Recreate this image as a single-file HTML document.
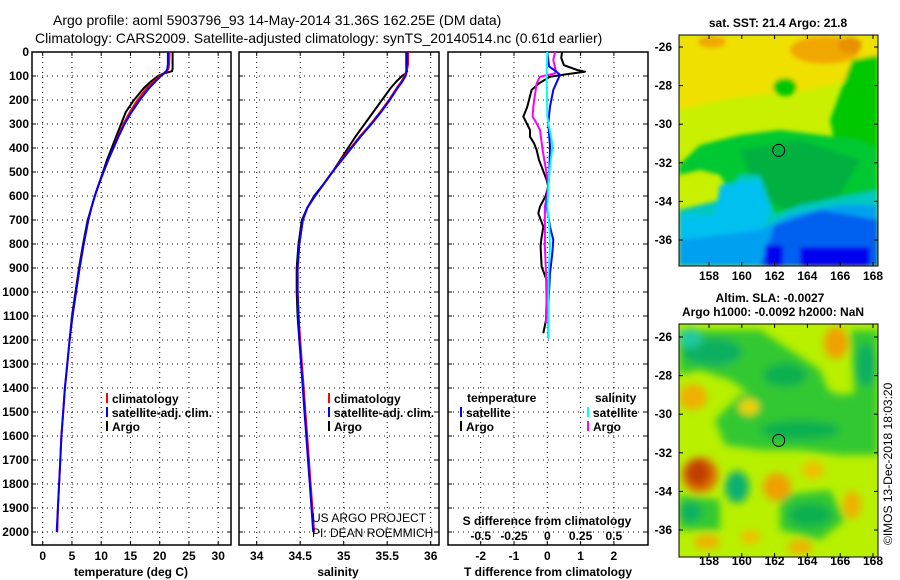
<!DOCTYPE html>
<html><head><meta charset="utf-8"><style>
body{margin:0;background:#fff;}
svg{display:block;font-family:"Liberation Sans",sans-serif;}
.b{font-weight:bold;font-size:12px;}
.n{font-size:12px;}
.t{font-size:14px;}
</style></head><body>
<svg id="fig" width="900" height="580" viewBox="0 0 900 580">
<defs>
<filter id="bl" x="-50%" y="-50%" width="200%" height="200%"><feGaussianBlur stdDeviation="4"/></filter>
<filter id="bl2" x="-50%" y="-50%" width="200%" height="200%"><feGaussianBlur stdDeviation="2"/></filter>
<clipPath id="c1"><rect x="679" y="35" width="199" height="231"/></clipPath>
<clipPath id="c2"><rect x="679" y="324" width="199" height="233"/></clipPath>
</defs>
<text class="t" x="53" y="25">Argo profile: aoml 5903796_93 14-May-2014 31.36S 162.25E (DM data)</text>
<text class="t" x="35" y="43">Climatology: CARS2009. Satellite-adjusted climatology: synTS_20140514.nc (0.61d earlier)</text>

<!-- SST map -->
<g clip-path="url(#c1)">
<rect x="679" y="35" width="199" height="231" fill="#c8f000"/>
<g filter="url(#bl2)">
<polygon points="679,35 878,35 878,60 850,80 800,92 760,95 720,100 679,110" fill="#f0e000"/>
<ellipse cx="825" cy="50" rx="35" ry="14" fill="#f0a800"/>
<ellipse cx="712" cy="42" rx="14" ry="6" fill="#f0a800"/>
<ellipse cx="850" cy="45" rx="12" ry="8" fill="#e89000"/>
<polygon points="852,60 878,55 878,190 840,170 830,120" fill="#00c800"/>
<ellipse cx="785" cy="87" rx="12" ry="9" fill="#00c800"/>
<polygon points="679,165 700,145 740,135 780,130 820,135 860,140 878,150 878,200 840,205 780,215 740,212 720,175 700,170 679,175" fill="#00c830"/>
<polygon points="740,150 800,140 860,160 840,195 790,210 760,200" fill="#00b040"/>
<polygon points="679,210 720,200 740,175 760,175 775,215 800,205 878,190 878,266 679,266" fill="#00c8c0"/>
<polygon points="720,185 760,180 770,210 760,240 720,250 679,245 679,215 715,215" fill="#00c0f0"/>
<polygon points="679,240 760,230 790,215 840,205 878,205 878,266 679,266" fill="#00a0f0"/>
<polygon points="775,225 820,210 878,220 878,266 760,266" fill="#0060f0"/>
<rect x="800" y="247" width="70" height="19" fill="#0000f0"/>
<rect x="765" y="245" width="18" height="21" fill="#0000f0"/>
</g>
</g>
<rect x="679" y="35" width="199" height="231" fill="none" stroke="#000" stroke-width="1"/>
<circle cx="778.7" cy="150.4" r="6" fill="none" stroke="#000" stroke-width="1"/>
<text class="b" x="778" y="27" text-anchor="middle">sat. SST: 21.4 Argo: 21.8</text>

<!-- SLA map -->
<g clip-path="url(#c2)">
<rect x="679" y="324" width="199" height="233" fill="#b8f000"/>
<g filter="url(#bl)">
<polygon points="679,330 760,330 790,350 820,370 830,395 760,400 730,380 700,370 679,375" fill="#30c830"/>
<polygon points="740,395 770,385 800,380 840,395 878,390 878,455 840,455 800,450 760,450 725,445 715,420" fill="#30c830"/>
<polygon points="780,495 830,490 845,520 820,540 780,530" fill="#30c830"/>
<polygon points="679,495 720,500 720,530 679,530" fill="#30c830"/>
<polygon points="850,330 878,330 878,410 855,400" fill="#30c830"/>
<ellipse cx="712" cy="352" rx="30" ry="14" fill="#10b060"/>
<ellipse cx="690" cy="338" rx="12" ry="10" fill="#20c8a0"/>
<ellipse cx="836" cy="343" rx="12" ry="16" fill="#f0a000"/>
<ellipse cx="866" cy="365" rx="10" ry="22" fill="#10b060"/>
<ellipse cx="785" cy="375" rx="22" ry="12" fill="#10b050"/>
<ellipse cx="693" cy="397" rx="14" ry="13" fill="#f0b000"/>
<ellipse cx="749" cy="407" rx="10" ry="8" fill="#f0d000"/>
<ellipse cx="800" cy="430" rx="40" ry="10" fill="#10b050"/>
<ellipse cx="700" cy="475" rx="18" ry="18" fill="#e07000"/>
<ellipse cx="698" cy="473" rx="12" ry="13" fill="#c04000"/>
<ellipse cx="737" cy="487" rx="12" ry="16" fill="#10b070"/>
<ellipse cx="777" cy="487" rx="14" ry="14" fill="#f0a000"/>
<ellipse cx="813" cy="470" rx="11" ry="9" fill="#f0c000"/>
<ellipse cx="810" cy="515" rx="22" ry="12" fill="#10b050"/>
<ellipse cx="852" cy="505" rx="9" ry="14" fill="#f0b000"/>
<ellipse cx="690" cy="512" rx="12" ry="10" fill="#10b060"/>
<ellipse cx="707" cy="542" rx="13" ry="7" fill="#f0b000"/>
<ellipse cx="750" cy="537" rx="10" ry="7" fill="#f0c000"/>
<ellipse cx="800" cy="547" rx="12" ry="7" fill="#f0b000"/>
</g>
</g>
<rect x="679" y="324" width="199" height="233" fill="none" stroke="#000" stroke-width="1"/>
<circle cx="778.7" cy="440.4" r="6" fill="none" stroke="#000" stroke-width="1"/>
<text class="b" x="770" y="302" text-anchor="middle">Altim. SLA: -0.0027</text>
<text class="b" x="773" y="316" text-anchor="middle">Argo h1000: -0.0092 h2000: NaN</text>
<text x="892" y="545" font-size="12" transform="rotate(-90 892 545)">©IMOS 13-Dec-2018 18:03:20</text>

<g id="profiles"></g>
</svg>
<script>
// ---- data ----
const depthLevels = [0,50,70,80,90,100,125,150,200,250,300,350,400,450,500,550,600,650,700,800,900,1000,1100,1200,1300,1400,1500,1600,1700,1800,1900,2000];
const climTemp = [21.7,21.6,21.5,21.2,20.7,20.0,18.9,17.8,16.2,14.9,13.8,12.9,12.1,11.2,10.4,9.6,8.9,8.3,7.8,7.0,6.3,5.7,5.1,4.6,4.2,3.8,3.5,3.2,3.0,2.8,2.6,2.5];
const satTemp = [21.4,21.4,21.3,21.1,20.7,20.2,19.2,18.2,16.6,15.2,14.0,13.0,12.1,11.2,10.4,9.6,8.9,8.3,7.8,7.0,6.3,5.7,5.1,4.6,4.2,3.8,3.5,3.2,3.0,2.8,2.6,2.4];
const argoTemp = [22.2,22.2,22.2,22.1,20.6,19.7,18.4,17.3,15.6,14.2,13.4,12.6,11.8,11.0,10.3,9.6,8.9,8.3,7.7,6.9,6.2,5.6,5.0,4.6,null,null,null,null,null,null,null,null];
const climSal = [35.74,35.74,35.73,35.72,35.71,35.70,35.66,35.61,35.52,35.42,35.31,35.19,35.08,34.97,34.87,34.77,34.67,34.58,34.53,34.49,34.47,34.47,34.48,34.50,34.52,34.54,34.56,34.58,34.60,34.62,34.64,34.66];
const satSal = [35.73,35.73,35.72,35.72,35.72,35.71,35.67,35.62,35.53,35.43,35.32,35.20,35.09,34.98,34.87,34.77,34.67,34.58,34.53,34.49,34.47,34.47,34.48,34.49,34.51,34.53,34.55,34.57,34.59,34.61,34.63,34.65];
const argoSal = [35.72,35.72,35.72,35.73,35.71,35.67,35.60,35.54,35.44,35.34,35.24,35.14,35.05,34.96,34.87,34.77,34.66,34.58,34.52,34.48,34.46,34.46,34.47,34.49,null,null,null,null,null,null,null,null];
const argoTdiffDepth = [0,25,55,75,82,92,103,131,158,200,228,269,297,325,353,380,408,450,478,533,561,600,644,672,728,780,811,894,950,1033,1117,1172];
const argoTdiff = [0.44,0.42,0.5,0.9,1.13,0.6,0.08,-0.25,-0.47,-0.55,-0.6,-0.72,-0.62,-0.52,-0.52,-0.4,-0.32,-0.25,-0.17,-0.02,0.03,-0.05,-0.22,-0.27,-0.12,-0.18,-0.2,-0.17,-0.02,-0.02,-0.04,-0.12];
const satTdiffDepth = [0,60,82,96,120,158,228,297,394,506,561,644,728,783,839,922,1061,1193];
const satTdiff = [0.0,0.05,0.28,0.38,0.3,0.18,0.08,0.03,0.08,0.06,0.03,-0.02,0.08,0.18,0.15,0.08,0.03,0.03];
const argoSdiffDepth = [0,33,75,89,103,131,228,269,297,325,408,506,561,644,728,811,922,1061,1131];
const argoSdiff = [0.058,0.045,0.062,0.058,-0.055,-0.08,-0.105,-0.11,-0.08,-0.055,-0.035,-0.005,0.008,-0.018,-0.018,-0.018,-0.01,-0.005,-0.01];
const satSdiffDepth = [0,103,269,367,394,506,561,644,728,811,922,1061,1193];
const satSdiff = [0.0,-0.005,0.0,0.032,0.038,0.015,0.008,0.0,0.015,0.02,0.008,0.008,0.008];
const depthTicks = [0,100,200,300,400,500,600,700,800,900,1000,1100,1200,1300,1400,1500,1600,1700,1800,1900,2000];
const tempTicks = [0,5,10,15,20,25,30];
const salTicks = [34,34.5,35,35.5,36];
const salTickLabels = ['34','34.5','35','35.5','36'];
const tdiffTicks = [-2,-1,0,1,2];
const sdiffTicks = [-0.5,-0.25,0,0.25,0.5];
const sdiffTickLabels = ['-0.5','-0.25','0','0.25','0.5'];

// ---- scales ----
const NS='http://www.w3.org/2000/svg';
const root=document.getElementById('profiles');
const TOP=52,BOT=545;
const yD=d=>TOP+d*0.24;
const xT=t=>42.7+t*5.85;
const xS=s=>256.7+(s-34)*87;
const xDT=t=>547.3+t*33.3;
const xDS=s=>547.3+s*133.2;
function el(tag,attrs,parent){const e=document.createElementNS(NS,tag);for(const k in attrs)e.setAttribute(k,attrs[k]);(parent||root).appendChild(e);return e;}
function txt(x,y,s,anchor,cls,parent){const e=el('text',{x:x,y:y,'text-anchor':anchor||'start','class':cls||'b'},parent);e.textContent=s;return e;}

function panel(name,x0,x1,xticks,xf,labels){
  const g=el('g',{});
  
  
  depthTicks.forEach(d=>{ if(d>0){const l=el('line',{x1:x0,x2:x1,y1:yD(d),y2:yD(d),stroke:'#000','stroke-dasharray':'1,4','stroke-width':1},g);
    }
    el('line',{x1:x0,x2:x0+4,y1:yD(d),y2:yD(d),stroke:'#000'},g);el('line',{x1:x1-4,x2:x1,y1:yD(d),y2:yD(d),stroke:'#000'},g);});
  xticks.forEach((v,i)=>{const x=xf(v);
    const l=el('line',{x1:x,x2:x,y1:TOP,y2:BOT,stroke:'#000','stroke-dasharray':'1,4'},g);
    
    el('line',{x1:x,x2:x,y1:BOT-4,y2:BOT,stroke:'#000'},g);el('line',{x1:x,x2:x,y1:TOP,y2:TOP+4,stroke:'#000'},g);
    if(labels){const t=txt(x,560,labels[i],'middle','b',g);}});
  el('rect',{x:x0,y:TOP,width:x1-x0,height:BOT-TOP,fill:'none',stroke:'#000','stroke-width':1.5},g);
  return g;
}
function series(name,depths,vals,xf,color,w){
  let p='';let pen=false;
  vals.forEach((v,i)=>{if(v===null){pen=false;return;}p+=(pen?'L':'M')+xf(v).toFixed(1)+','+yD(depths[i]).toFixed(1);pen=true;});
  const e=el('path',{d:p,fill:'none',stroke:color,'stroke-width':w||2,'stroke-linejoin':'round'});
  
  
}
function legend(x,y,color,label,name){
  el('line',{x1:x,x2:x,y1:y-10,y2:y,stroke:color,'stroke-width':2});
  const t=txt(x+5,y,label,'start','b');
  
  
}

panel('temperature',32,231,tempTicks,xT,tempTicks.map(String));
depthTicks.forEach(d=>{const t=txt(29,yD(d)+4,String(d),'end','b');
  
  });
series('argo-temperature-line',depthLevels,argoTemp,xT,'#000');
series('climatology-temperature-line',depthLevels,climTemp,xT,'#f00');
series('satellite-temperature-line',depthLevels,satTemp,xT,'#00f');
legend(107,403,'#f00','climatology','legend-climatology');
legend(107,417,'#00f','satellite-adj. clim.','legend-satellite-adj');
legend(107,431,'#000','Argo','legend-argo');
let a=txt(131,576,'temperature (deg C)','middle');

panel('salinity',239,439,salTicks,xS,salTickLabels);
series('argo-salinity-line',depthLevels,argoSal,xS,'#000');
series('climatology-salinity-line',depthLevels,climSal,xS,'#f00');
series('satellite-salinity-line',depthLevels,satSal,xS,'#00f');
legend(329,403,'#f00','climatology','legend-climatology-sal');
legend(329,417,'#00f','satellite-adj. clim.','legend-satellite-adj-sal');
legend(329,431,'#000','Argo','legend-argo-sal');
a=txt(338,576,'salinity','middle');
a=txt(312,522,'US ARGO PROJECT','start','n');
a=txt(312,537,'PI: DEAN ROEMMICH','start','n');

panel('difference',448,648,tdiffTicks,xDT,tdiffTicks.map(String));
series('argo-temperature-diff-line',argoTdiffDepth,argoTdiff,xDT,'#000');
series('argo-salinity-diff-line',argoSdiffDepth,argoSdiff,xDS,'#f0f');
series('satellite-temperature-diff-line',satTdiffDepth,satTdiff,xDT,'#00f');
series('satellite-salinity-diff-line',satSdiffDepth,satSdiff,xDS,'#0ff');
a=txt(467,402,'temperature');
a=txt(595,402,'salinity');
legend(461,417,'#00f','satellite','legend-temp-satellite');
legend(461,431,'#000','Argo','legend-temp-argo');
legend(588,417,'#0ff','satellite','legend-sal-satellite');
legend(588,431,'#f0f','Argo','legend-sal-argo');
a=txt(547,525,'S difference from climatology','middle');
sdiffTicks.forEach((v,i)=>{const t=txt(xDS(v),540,sdiffTickLabels[i],'middle');
  
  });
a=txt(548,576,'T difference from climatology','middle');

// map ticks
const latTicks=[-26,-28,-30,-32,-34,-36];
const lonTicks=[158,160,162,164,166,168];
const svg=document.getElementById('fig');
[[47,280],[337,565]].forEach(([y0,ly],mi)=>{
  const top=mi?324:35,bot=mi?557:266;
  latTicks.forEach(l=>{const y=y0+(-26-l)*19.3;
    el('line',{x1:679,x2:683,y1:y,y2:y,stroke:'#000'},svg);el('line',{x1:874,x2:878,y1:y,y2:y,stroke:'#000'},svg);
    const t=txt(672,y+4,String(l),'end','b',svg);
    
    });
  lonTicks.forEach(l=>{const x=709+(l-158)*16.4;
    el('line',{x1:x,x2:x,y1:bot-4,y2:bot,stroke:'#000'},svg);el('line',{x1:x,x2:x,y1:top,y2:top+4,stroke:'#000'},svg);
    const t=txt(x,ly,String(l),'middle','b',svg);
    
    });
});
</script>
</body></html>
